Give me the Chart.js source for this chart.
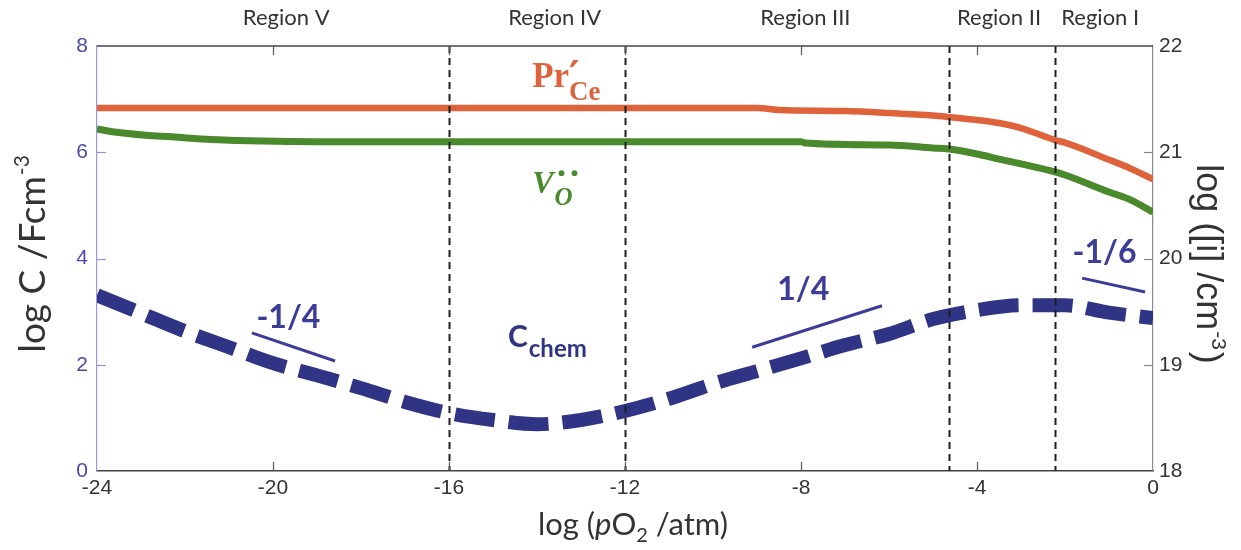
<!DOCTYPE html>
<html>
<head>
<meta charset="utf-8">
<script src="https://cdn.jsdelivr.net/npm/chart.js@4.4.1/dist/chart.umd.min.js"></script>
<style>
  html, body { margin: 0; padding: 0; background: #fff; }
  #wrap { width: 1241px; height: 550px; position: relative; }
</style>
</head>
<body>
<div id="wrap"><canvas id="c"></canvas></div>
<script>
// Defect concentrations, log([i]/cm^-3), right axis
const prX = [-24, -9, -8.5, -7, -6, -5, -4.64, -4, -3.5, -3, -2.23, -2, -1, -0.5, 0];
const prY = [21.416, 21.416, 21.398, 21.388, 21.37, 21.346, 21.332, 21.304, 21.275, 21.228, 21.115, 21.09, 20.93, 20.845, 20.745];
const voX = [-24, -23.6, -22.9, -22.3, -21.4, -19, -16, -8, -7.9, -6, -5, -4.64, -4, -3.5, -3, -2.23, -2, -1, -0.5, 0];
const voY = [21.22, 21.19, 21.16, 21.145, 21.12, 21.10, 21.10, 21.10, 21.087, 21.068, 21.04, 21.03, 20.984, 20.936, 20.89, 20.815, 20.786, 20.626, 20.55, 20.437];

// Chemical capacitance, log(C/F cm^-3), left axis
const ccX = [-24, -23, -22, -21, -20, -19, -18, -17, -16, -15, -14, -13, -12, -11, -10, -9, -8, -7, -6, -5, -4, -3, -2, -1, 0];
const ccY = [3.31, 2.97, 2.63, 2.33, 2.03, 1.80, 1.56, 1.30, 1.09, 0.96, 0.88, 0.96, 1.13, 1.36, 1.64, 1.88, 2.12, 2.37, 2.58, 2.86, 3.03, 3.12, 3.12, 2.98, 2.88];

// Slope guide segments (left axis units)
const guide1X = [-20.48, -18.59], guide1Y = [2.60, 2.07];
const guide2X = [-9.11, -6.16],   guide2Y = [2.33, 3.11];
const guide3X = [-1.61, -0.18],   guide3Y = [3.63, 3.37];
const slopeLabels = ['-1/4', '1/4', '-1/6'];

// Defect-chemistry regime boundaries
const regionBounds = [-16, -12, -4.64, -2.23];
const regionNames = ['Region V', 'Region IV', 'Region III', 'Region II', 'Region I'];

// Axis ticks
const xTicks = [-24, -20, -16, -12, -8, -4, 0];
const yLeftTicks = [0, 2, 4, 6, 8];
const yRightTicks = [18, 19, 20, 21, 22];

const pts = (xs, ys) => xs.map((x, i) => ({ x, y: ys[i] }));

const RED = '#df633a', GREEN = '#4a892c', BLUE = '#2f3584', GUIDE = '#3c3d98';

function runsWidth(ctx, runs) {
  let w = 0;
  runs.forEach(r => { ctx.font = r.font; w += ctx.measureText(r.text).width + (r.dx || 0); });
  return w;
}
function drawRuns(ctx, x, y, runs, align) {
  const w = runsWidth(ctx, runs);
  let cx = align === 'center' ? x - w / 2 : align === 'right' ? x - w : x;
  ctx.textAlign = 'left';
  ctx.textBaseline = 'alphabetic';
  runs.forEach(r => {
    ctx.font = r.font;
    ctx.fillStyle = r.color;
    cx += (r.dx || 0);
    ctx.fillText(r.text, cx, y + (r.dy || 0));
    cx += ctx.measureText(r.text).width;
  });
}

const decorations = {
  id: 'decorations',
  afterDatasetsDraw(chart) {
    const { ctx, chartArea: a, scales: { x } } = chart;
    ctx.save();
    // regime boundaries
    ctx.strokeStyle = '#1e1e1e';
    ctx.lineWidth = 2;
    ctx.setLineDash([7, 5]);
    regionBounds.forEach(v => {
      const px = Math.round(x.getPixelForValue(v)) + 0.5;
      ctx.beginPath(); ctx.moveTo(px, a.top); ctx.lineTo(px, a.bottom); ctx.stroke();
    });
    ctx.setLineDash([]);
    // top frame
    ctx.strokeStyle = '#444';
    ctx.lineWidth = 1.5;
    ctx.beginPath(); ctx.moveTo(a.left, a.top); ctx.lineTo(a.right, a.top); ctx.stroke();
    ctx.restore();
  },
  afterDraw(chart) {
    const { ctx, chartArea: a, scales: { x, y, y1 } } = chart;
    ctx.save();
    // inward tick marks
    const tl = 9;
    ctx.lineWidth = 1.2;
    ctx.strokeStyle = '#555';
    xTicks.slice(1, -1).forEach(v => {
      const px = Math.round(x.getPixelForValue(v)) + 0.5;
      ctx.beginPath(); ctx.moveTo(px, a.bottom); ctx.lineTo(px, a.bottom - tl); ctx.stroke();
      ctx.beginPath(); ctx.moveTo(px, a.top); ctx.lineTo(px, a.top + tl); ctx.stroke();
    });
    ctx.strokeStyle = '#9a8fd8';
    yLeftTicks.slice(1, -1).forEach(v => {
      const py = Math.round(y.getPixelForValue(v)) + 0.5;
      ctx.beginPath(); ctx.moveTo(a.left, py); ctx.lineTo(a.left + tl, py); ctx.stroke();
    });
    ctx.strokeStyle = '#888';
    yRightTicks.slice(1, -1).forEach(v => {
      const py = Math.round(y1.getPixelForValue(v)) + 0.5;
      ctx.beginPath(); ctx.moveTo(a.right, py); ctx.lineTo(a.right - tl, py); ctx.stroke();
    });

    const X = v => x.getPixelForValue(v);
    const YL = v => y.getPixelForValue(v);

    // regime names along the top
    const regionLabelX = [-19.7, -13.6, -7.9, -3.5, -1.2];
    regionNames.forEach((t, i) => {
      drawRuns(ctx, X(regionLabelX[i]), 25, [{ text: t, font: '22px Lato', color: '#333' }], 'center');
    });

    // Pr'_Ce label
    {
      const px = X(-14.11), py = YL(7.23);
      ctx.font = 'bold 35px "Liberation Serif"';
      const wPr = ctx.measureText('Pr').width;
      drawRuns(ctx, px, py, [
        { text: 'Pr', font: 'bold 35px "Liberation Serif"', color: RED },
        { text: 'Ce', font: 'bold 27px "Liberation Serif"', color: RED, dy: 13, dx: 0 }
      ], 'left');
      drawRuns(ctx, px + wPr, py + 2, [{ text: '\u2032', font: 'bold 40px "DejaVu Serif"', color: RED }], 'left');
    }

    // V_O with two dots
    {
      const px = X(-14.11), py = YL(5.23);
      ctx.font = 'bold italic 32px "Liberation Serif"';
      const wV = ctx.measureText('V').width;
      drawRuns(ctx, px, py, [
        { text: 'V', font: 'bold italic 32px "Liberation Serif"', color: GREEN },
        { text: 'O', font: 'bold italic 25px "Liberation Serif"', color: GREEN, dy: 12, dx: 1 }
      ], 'left');
      ctx.fillStyle = GREEN;
      [wV + 8, wV + 21].forEach(dx => {
        ctx.beginPath(); ctx.arc(px + dx, py - 20, 2.9, 0, Math.PI * 2); ctx.fill();
      });
    }

    // C_chem label
    drawRuns(ctx, X(-14.66), YL(2.33), [
      { text: 'C', font: 'bold 30px Lato', color: BLUE },
      { text: 'chem', font: 'bold 24px Lato', color: BLUE, dy: 10, dx: 1 }
    ], 'left');

    // slope labels
    const slopeLabelX = [-19.65, -7.95, -1.1];
    const slopeLabelY = [2.69, 3.22, 3.92];
    slopeLabels.forEach((t, i) => {
      drawRuns(ctx, X(slopeLabelX[i]), YL(slopeLabelY[i]), [{ text: t, font: 'bold 32px Lato', color: GUIDE }], 'center');
    });

    // axis titles
    // bottom
    drawRuns(ctx, 633, 535, [
      { text: 'log (', font: '31px Lato', color: '#333' },
      { text: 'p', font: 'italic 31px Lato', color: '#333' },
      { text: 'O', font: '31px Lato', color: '#333' },
      { text: '2', font: '20px Lato', color: '#333', dy: 7 },
      { text: ' /atm)', font: '31px Lato', color: '#333' }
    ], 'center');

    // left (reads upward)
    ctx.save();
    ctx.translate(45, 254);
    ctx.rotate(-Math.PI / 2);
    drawRuns(ctx, 0, 0, [
      { text: 'log C /Fcm', font: '37px Lato', color: '#333' },
      { text: '-3', font: '21px Lato', color: '#333', dy: -16, dx: 1 }
    ], 'center');
    ctx.restore();

    // right (reads downward)
    ctx.save();
    ctx.translate(1197, 264);
    ctx.rotate(Math.PI / 2);
    drawRuns(ctx, 0, 0, [
      { text: 'log ([i] /cm', font: '36px "Liberation Sans"', color: '#333' },
      { text: '-3', font: '21px "Liberation Sans"', color: '#333', dy: -15, dx: 1 },
      { text: ')', font: '36px "Liberation Sans"', color: '#333', dx: 2 }
    ], 'center');
    ctx.restore();

    ctx.restore();
  }
};

new Chart(document.getElementById('c'), {
  type: 'line',
  data: {
    datasets: [
      { data: pts(prX, prY), yAxisID: 'y1', borderColor: RED, borderWidth: 6.5, cubicInterpolationMode: 'monotone' },
      { data: pts(voX, voY), yAxisID: 'y1', borderColor: GREEN, borderWidth: 7, cubicInterpolationMode: 'monotone' },
      { data: pts(ccX, ccY), yAxisID: 'y', borderColor: BLUE, borderWidth: 14, borderDash: [40, 14], cubicInterpolationMode: 'monotone', borderCapStyle: 'butt' },
      { data: pts(guide1X, guide1Y), yAxisID: 'y', borderColor: GUIDE, borderWidth: 3 },
      { data: pts(guide2X, guide2Y), yAxisID: 'y', borderColor: GUIDE, borderWidth: 3 },
      { data: pts(guide3X, guide3Y), yAxisID: 'y', borderColor: GUIDE, borderWidth: 3 }
    ]
  },
  options: {
    responsive: true,
    maintainAspectRatio: false,
    animation: false,
    events: [],
    layout: { padding: { top: 46, left: 0, right: 0, bottom: 0 } },
    elements: { point: { radius: 0 }, line: { fill: false } },
    plugins: { legend: { display: false }, tooltip: { enabled: false } },
    scales: {
      x: {
        type: 'linear', position: 'bottom', min: -24, max: 0,
        afterBuildTicks: s => { s.ticks = xTicks.map(v => ({ value: v })); },
        ticks: { color: '#333', font: { family: 'Liberation Sans', size: 21 }, padding: 5, maxRotation: 0, autoSkip: false },
        grid: { display: false, drawTicks: false },
        border: { display: true, color: '#444', width: 1.5 },
        afterFit: s => { s.height = 79; }
      },
      y: {
        type: 'linear', position: 'left', min: 0, max: 8,
        afterBuildTicks: s => { s.ticks = yLeftTicks.map(v => ({ value: v })); },
        ticks: { color: '#4b4aa6', font: { family: 'Liberation Sans', size: 21 }, padding: 9 },
        grid: { display: false, drawTicks: false },
        border: { display: true, color: '#a294e4', width: 1.2 },
        afterFit: s => { s.width = 97; }
      },
      y1: {
        type: 'linear', position: 'right', min: 18, max: 22,
        afterBuildTicks: s => { s.ticks = yRightTicks.map(v => ({ value: v })); },
        ticks: { color: '#333', font: { family: 'Liberation Sans', size: 21 }, padding: 6 },
        grid: { display: false, drawTicks: false },
        border: { display: true, color: '#8a8a8a', width: 1.2 },
        afterFit: s => { s.width = 88; }
      }
    }
  },
  plugins: [decorations]
});
</script>
</body>
</html>
